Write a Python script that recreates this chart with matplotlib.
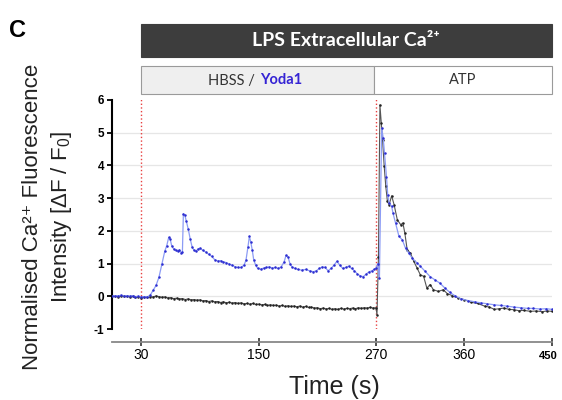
import matplotlib
matplotlib.use('Agg')
import matplotlib.pyplot as plt
from matplotlib.patches import Rectangle

plt.rcParams['font.family'] = ['Liberation Sans', 'DejaVu Sans']
plt.rcParams['mathtext.fontset'] = 'custom'
plt.rcParams['mathtext.rm'] = 'Liberation Sans'
plt.rcParams['mathtext.default'] = 'regular'

# HBSS trace (black)
hbss_t = [0, 3, 6, 9, 12, 15, 18, 21, 24, 27, 30, 33, 36, 39, 42, 45, 48, 51, 54, 57,
          60, 63, 66, 69, 72, 75, 78, 81, 84, 87, 90, 93, 96, 99, 102, 105, 108, 111, 114, 117,
          120, 123, 126, 129, 132, 135, 138, 141, 144, 147, 150, 153, 156, 159, 162, 165, 168, 171, 174, 177,
          180, 183, 186, 189, 192, 195, 198, 201, 204, 207, 210, 213, 216, 219, 222, 225, 228, 231, 234, 237,
          240, 243, 246, 249, 252, 255, 258, 261, 264, 267, 270, 271, 272.5, 274,
          275.4, 276.7, 278.4, 280, 281.7, 283.4, 286, 288.5, 291.8, 295.2, 297.5, 299.5, 301.9, 305.2, 308.6,
          312, 315.3, 318.7, 322, 325.4, 328.7, 333.8, 338.8, 343, 348, 354, 360, 367, 374, 381,
          386, 391, 396, 401, 406, 411, 416, 421, 428, 434, 440, 445, 450]
hbss_v = [0.00, 0.01, -0.01, 0.02, 0.00, 0.01, -0.01, 0.01, -0.02, -0.01, -0.04, -0.02, -0.03, -0.01, -0.02, 0.01, -0.01, -0.03, -0.02, -0.05,
          -0.04, -0.07, -0.06, -0.08, -0.07, -0.10, -0.08, -0.11, -0.10, -0.12, -0.11, -0.14, -0.13, -0.16, -0.14, -0.17, -0.16, -0.19, -0.17, -0.20,
          -0.18, -0.21, -0.19, -0.22, -0.20, -0.23, -0.22, -0.24, -0.22, -0.25, -0.24, -0.26, -0.25, -0.28, -0.26, -0.28, -0.27, -0.30, -0.28, -0.31,
          -0.29, -0.31, -0.30, -0.32, -0.30, -0.33, -0.31, -0.34, -0.33, -0.36, -0.35, -0.38, -0.36, -0.39, -0.37, -0.40, -0.38, -0.40, -0.37, -0.39,
          -0.37, -0.38, -0.36, -0.38, -0.35, -0.37, -0.35, -0.36, -0.34, -0.36, -0.35, -0.56, 1.20, 5.85,
          5.29, 4.78, 3.97, 3.36, 2.90, 2.80, 3.07, 2.80, 2.34, 2.19, 2.24, 1.93, 1.42, 1.32, 1.07,
          0.86, 0.66, 0.61, 0.25, 0.36, 0.20, 0.15, 0.20, 0.08, 0.02, -0.05, -0.10, -0.18, -0.22, -0.30,
          -0.33, -0.40, -0.38, -0.36, -0.40, -0.41, -0.44, -0.43, -0.46, -0.45, -0.47, -0.45, -0.46]

# Yoda1 trace (blue)
yoda_t = [0, 3, 6, 9, 12, 15, 18, 21, 24, 27, 30, 33, 36, 39, 42, 45, 48, 51, 54, 56,
          58, 59.5, 61, 63, 65, 67, 69, 71, 72, 73, 74.5, 76, 78, 80, 82, 84, 86, 88, 90, 93,
          96, 99, 102, 105, 108, 111, 114, 117, 120, 123, 126, 129, 132, 135, 137, 139, 140.5, 142, 143.5, 145,
          147, 149, 152, 155, 158, 161, 164, 167, 170, 173, 176, 178, 180, 182, 184, 187, 190, 194, 198, 202,
          206, 209, 212, 215, 218, 221, 224, 227, 230, 233, 236, 239, 242, 245, 248, 251, 254, 257, 260, 263,
          266, 268, 270, 272, 273.5, 275.8, 277.4, 278.7, 280.7, 282, 283.4, 286, 287.4, 290, 293.5, 296.8,
          300.2, 303.6, 306.9, 312, 315.3, 320.3, 325.4, 330.4, 335.4, 340.5, 345.5, 350.5, 357, 364, 371,
          377, 384, 391, 398, 404, 411, 418, 425, 431, 438, 444, 450]
yoda_v = [0.00, 0.02, 0.01, 0.03, 0.01, 0.02, 0.00, 0.02, -0.01, 0.00, -0.03, -0.01, -0.02, 0.03, 0.18, 0.33, 0.58, 0.98, 1.38, 1.55,
          1.80, 1.75, 1.55, 1.45, 1.40, 1.38, 1.42, 1.32, 1.35, 2.52, 2.48, 2.30, 2.05, 1.75, 1.50, 1.40, 1.38, 1.45, 1.47, 1.40,
          1.35, 1.28, 1.22, 1.12, 1.08, 1.09, 1.05, 1.03, 0.98, 0.95, 0.90, 0.88, 0.88, 0.95, 1.10, 1.50, 1.83, 1.65, 1.40, 1.10,
          0.95, 0.85, 0.83, 0.86, 0.88, 0.90, 0.86, 0.88, 0.85, 0.90, 1.05, 1.25, 1.20, 1.00, 0.90, 0.85, 0.82, 0.80, 0.82, 0.78,
          0.75, 0.78, 0.85, 0.90, 0.88, 0.78, 0.85, 0.95, 1.07, 0.95, 0.85, 0.88, 0.92, 0.85, 0.78, 0.68, 0.62, 0.60, 0.68, 0.75,
          0.78, 0.82, 0.86, 1.00, 0.56, 5.14, 4.83, 4.37, 3.66, 3.10, 2.85, 2.75, 2.54, 2.24, 1.83, 1.73,
          1.47, 1.32, 1.17, 1.02, 0.92, 0.76, 0.60, 0.50, 0.40, 0.25, 0.12, 0.02, -0.08, -0.13, -0.17,
          -0.20, -0.23, -0.26, -0.28, -0.30, -0.33, -0.35, -0.37, -0.37, -0.39, -0.38, -0.40]

x_ticks = [30, 150, 270, 360, 450]
y_ticks = [-1, 0, 1, 2, 3, 4, 5, 6]
grid_levels = [0, 1, 2, 3, 4, 5]
event_times = [30, 270]

W, H = 562, 400


def fx(px):
    return px / W


def fy(py):
    return 1 - py / H


fig = plt.figure(figsize=(5.62, 4), dpi=100)
ax = fig.add_axes([fx(112), fy(329), 440 / W, 229 / H])

# light grid and event markers
for g in grid_levels:
    ax.axhline(g, color='#e6e6e6', lw=0.9, zorder=0)
ax.vlines(event_times, -1, 6.06, colors='#e84040', linestyles=':', lw=1.0, zorder=1)

# traces
ax.plot(hbss_t, hbss_v, color='#555555', lw=0.8, marker='.', ms=1.6,
        mfc='#222222', mec='#222222', zorder=3)
ax.plot(yoda_t, yoda_v, color='#8c9cf5', lw=0.9, marker='.', ms=1.6,
        mfc='#2d2dd0', mec='#2d2dd0', zorder=4)

ax.set_xlim(0, 450)
ax.set_ylim(-1, 6)
ax.set_xticks(x_ticks)
ax.set_yticks(y_ticks)
# the last label sits at the figure edge, so it is drawn separately a little further in
ax.set_xticklabels([str(v) for v in x_ticks[:-1]] + [''], fontweight='bold', fontsize=8)
ax.set_yticklabels([str(v) for v in y_ticks], fontweight='bold', fontsize=8.5)
ax.annotate(str(x_ticks[-1]), xy=(x_ticks[-1], 0), xycoords=('data', 'axes fraction'),
            xytext=(-2.5, -15.5), textcoords='offset points', ha='center', va='top',
            fontweight='bold', fontsize=8, annotation_clip=False)

ax.spines['top'].set_visible(False)
ax.spines['right'].set_visible(False)
ax.spines['left'].set_linewidth(1.5)
ax.spines['left'].set_bounds(-1, 6)
ax.spines['bottom'].set_position(('outward', 9))
ax.spines['bottom'].set_color('#888888')
ax.spines['bottom'].set_linewidth(1.3)
ax.tick_params(axis='y', length=3.5, width=1.3, pad=2)
ax.tick_params(axis='x', direction='inout', length=6, width=1.2, color='#333333', pad=2)
ax.patch.set_alpha(0)

# header boxes
fig.add_artist(Rectangle((fx(140.7), fy(57.3)), (552 - 140.7) / W, 33.3 / H,
                         transform=fig.transFigure, facecolor='#3d3d3d', edgecolor='#3d3d3d', lw=0.8))
fig.add_artist(Rectangle((fx(140.7), fy(94.3)), (374.3 - 140.7) / W, 28.3 / H,
                         transform=fig.transFigure, facecolor='#efefef', edgecolor='#9a9a9a', lw=0.8))
fig.add_artist(Rectangle((fx(374.3), fy(94.3)), (552 - 374.3) / W, 28.3 / H,
                         transform=fig.transFigure, facecolor='white', edgecolor='#9a9a9a', lw=0.8))

fig.text(fx(346), fy(41), 'LPS Extracellular Ca²⁺', color='white', fontsize=14,
         fontweight='bold', family=['Lato', 'DejaVu Sans'], ha='center', va='center')
fig.text(fx(259), fy(80.5), 'HBSS / ', color='#333333', fontsize=10.5,
         family=['Lato', 'DejaVu Sans'], ha='right', va='center')
fig.text(fx(260), fy(80.5), 'Yoda1', color='#3524d4', fontsize=10.5, fontweight='bold',
         family=['Lato', 'DejaVu Sans'], ha='left', va='center')
fig.text(fx(463), fy(80.5), 'ATP', color='#333333', fontsize=10.5,
         family=['Lato', 'DejaVu Sans'], ha='center', va='center')

# panel letter and axis labels
fig.text(fx(9), fy(37), 'C', fontsize=17, fontweight='bold', va='baseline')
fig.text(fx(33), fy(217), 'Normalised Ca²⁺ Fluorescence', fontsize=16,
         rotation=90, ha='center', va='center', color='#222222')
fig.text(fx(62), fy(217), 'Intensity [ΔF / F$_0$]', fontsize=16,
         rotation=90, ha='center', va='center', color='#222222')
fig.text(fx(334), fy(394), 'Time (s)', fontsize=18, ha='center', va='baseline', color='#222222')

fig.savefig('out.png', dpi=100)
